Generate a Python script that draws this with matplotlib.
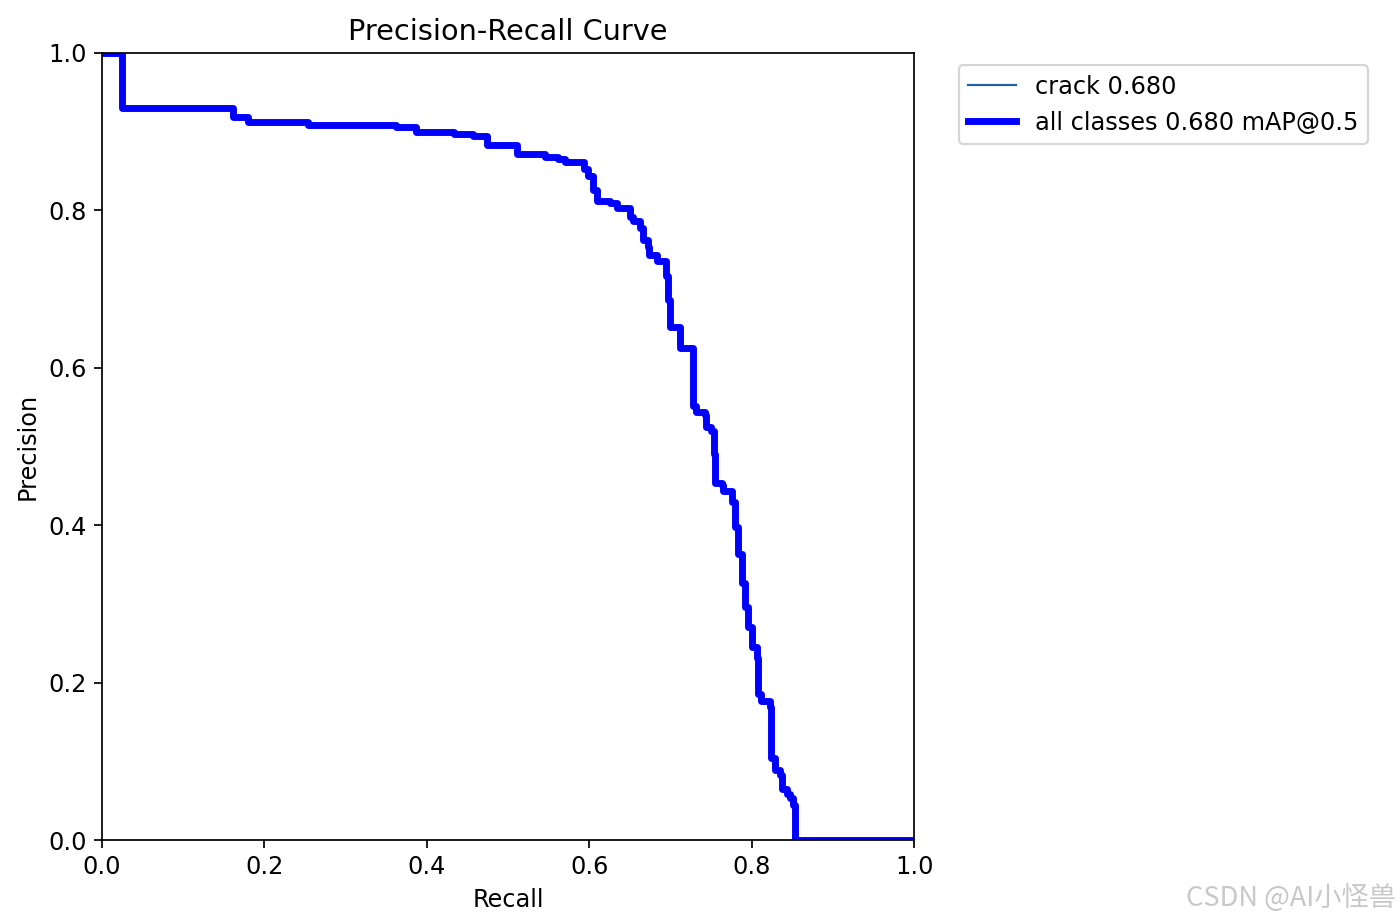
import matplotlib
matplotlib.use("Agg")
import matplotlib.pyplot as plt
import numpy as np

# recall points where the precision changes, and the precision after each point
recall = [0.0, 0.024, 0.161, 0.180, 0.253, 0.362, 0.387, 0.433, 0.457, 0.474,
          0.511, 0.546, 0.562, 0.570, 0.593, 0.599, 0.605, 0.609, 0.626, 0.634,
          0.650, 0.654, 0.662, 0.666, 0.672, 0.674, 0.683, 0.695, 0.697, 0.700,
          0.712, 0.728, 0.732, 0.742, 0.744, 0.750, 0.753, 0.755, 0.763, 0.765,
          0.776, 0.779, 0.783, 0.788, 0.792, 0.796, 0.800, 0.806, 0.808, 0.812,
          0.823, 0.824, 0.829, 0.835, 0.837, 0.843, 0.847, 0.851, 0.853, 1.0]
precision = [1.0, 0.930, 0.918, 0.912, 0.909, 0.906, 0.900, 0.897, 0.894, 0.883,
             0.872, 0.868, 0.865, 0.861, 0.853, 0.843, 0.826, 0.812, 0.809, 0.803,
             0.792, 0.786, 0.777, 0.762, 0.754, 0.743, 0.735, 0.716, 0.686, 0.652,
             0.625, 0.551, 0.544, 0.540, 0.525, 0.519, 0.491, 0.454, 0.451, 0.443,
             0.430, 0.398, 0.364, 0.326, 0.296, 0.271, 0.245, 0.231, 0.186, 0.176,
             0.169, 0.104, 0.089, 0.083, 0.065, 0.059, 0.053, 0.044, 0.0, 0.0]

class_name = "crack"
ap_class = 0.680
ap_all = 0.680

plt.rcParams["font.size"] = 11.1

fig = plt.figure(figsize=(9, 5.934), dpi=155.56)
ax = fig.add_axes([0.0729, 0.0899, 0.58, 0.8527])

# one class -> same curve drawn twice, thin class line under the thick total line
ax.plot(recall, precision, linewidth=1, color="#1f5fa8", drawstyle="steps-post",
        label=f"{class_name} {ap_class:.3f}")
ax.plot(recall, precision, linewidth=3.2, color="blue", drawstyle="steps-post",
        label=f"all classes {ap_all:.3f} mAP@0.5")

ax.set_xlabel("Recall")
ax.set_ylabel("Precision")
ax.set_xlim(0, 1)
ax.set_ylim(0, 1)
ax.set_title("Precision-Recall Curve")
ax.legend(bbox_to_anchor=(1.04, 1), loc="upper left")

# watermark of the page the picture came from
fig.text(0.997, 0.027, "CSDN @AI小怪兽", ha="right", va="center",
         fontsize=12.6, color="#c8c8c8",
         family=["Noto Sans CJK SC", "DejaVu Sans"])

fig.savefig("out.png", dpi=155.56)
